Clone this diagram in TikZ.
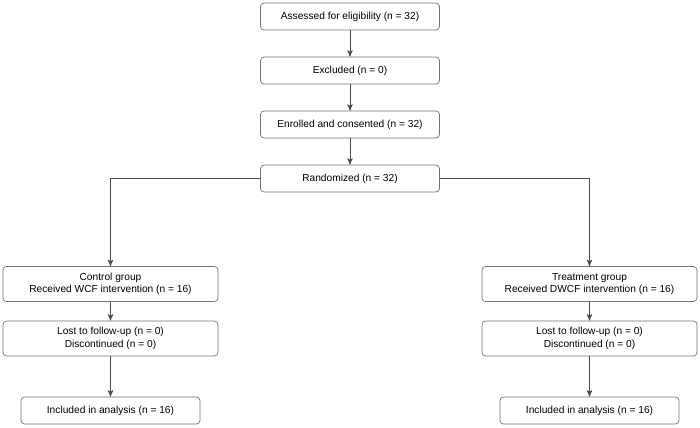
\documentclass[tikz,border=0pt]{standalone}
\usepackage{fontspec}
\setmainfont{Liberation Sans}
\usetikzlibrary{arrows}
\begin{document}
\begin{tikzpicture}[>=stealth',x=0.02cm,y=-0.02cm]
			\tikzstyle{stage}=[draw=black!55,rounded corners=2pt,fill=white,align=center,font=\fontsize{5.8}{7}\selectfont,minimum width=3.58cm,minimum height=0.54cm,inner sep=1pt];
			\tikzstyle{arm}=[stage,minimum width=4.3cm,minimum height=0.7cm];
			\useasboundingbox(0,0)rectangle(700,427);
			\node[stage](assess)at(350,16.5){Assessed for eligibility (n = 32)};
			\node[stage](excl)at(350,70.5){Excluded (n = 0)};
			\node[stage](enrol)at(350,124.5){Enrolled and consented (n = 32)};
			\node[stage](rand)at(350,178.5){Randomized (n = 32)};
			\node[arm](ctrl)at(110.5,284){Control group\\Received WCF intervention (n = 16)};
			\node[arm](treat)at(589.5,284){Treatment group\\Received DWCF intervention (n = 16)};
			\node[arm](lostc)at(110.5,338.5){Lost to follow-up (n = 0)\\Discontinued (n = 0)};
			\node[arm](lostt)at(589.5,338.5){Lost to follow-up (n = 0)\\Discontinued (n = 0)};
			\node[stage](inclc)at(110.5,410.5){Included in analysis (n = 16)};
			\node[stage](inclt)at(589.5,410.5){Included in analysis (n = 16)};
			\draw[->,black!70](assess)--(excl);
			\draw[->,black!70](excl)--(enrol);
			\draw[->,black!70](enrol)--(rand);
			\draw[->,black!70](rand.west)-|(ctrl.north);
			\draw[->,black!70](rand.east)-|(treat.north);
			\draw[->,black!70](ctrl)--(lostc);
			\draw[->,black!70](treat)--(lostt);
			\draw[->,black!70](lostc)--(inclc);
			\draw[->,black!70](lostt)--(inclt);
		\end{tikzpicture}
\end{document}
